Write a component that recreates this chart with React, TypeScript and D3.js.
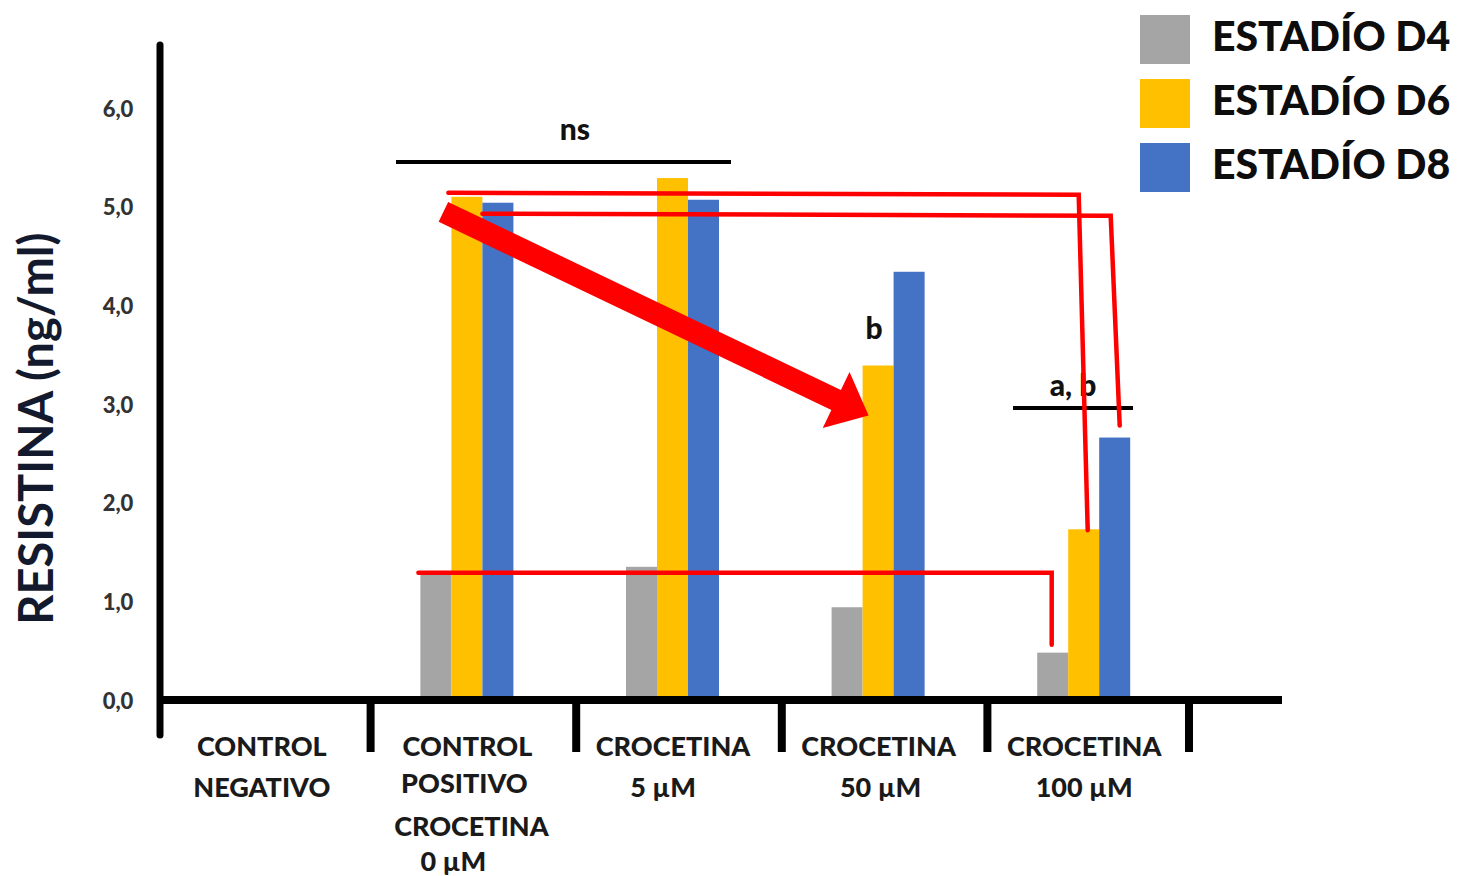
import React from 'react';
import * as d3 from 'd3';

const categories = ['NEG', 'POS', 'C5', 'C50', 'C100'];
const categoryLabels = [
    ['CONTROL', 'NEGATIVO'],
    ['CONTROL', 'POSITIVO', 'CROCETINA', '0 µM'],
    ['CROCETINA', '5 µM'],
    ['CROCETINA', '50 µM'],
    ['CROCETINA', '100 µM'],
];
const series = ['ESTADÍO D4', 'ESTADÍO D6', 'ESTADÍO D8'];
const d4 = [null, 1.27, 1.35, 0.94, 0.48];
const d6 = [null, 5.1, 5.29, 3.39, 1.73];
const d8 = [null, 5.04, 5.07, 4.34, 2.66];
const yTicks = [0, 1, 2, 3, 4, 5, 6];

const colors = ['#A5A5A5', '#FFC000', '#4472C4'];
const FONT = 'Lato, "Open Sans", sans-serif';

const W = 1468;
const H = 876;

const App: React.FC = () => {
    const values = [d4, d6, d8];
    const x = d3.scaleBand<string>().domain(categories).range([162, 1190]).padding(0);
    const inner = d3.scaleBand<string>().domain(series).range([0, 93]).padding(0);
    const y = d3.scaleLinear().domain([0, 6]).range([700, 108]);
    const bw = inner.bandwidth();
    const gx = (i: number) => x(categories[i])! + x.bandwidth() / 2 - 50;
    const barLeft = (i: number, s: number) => gx(i) + inner(series[s])!;
    const barMid = (i: number, s: number) => barLeft(i, s) + bw / 2;

    // big arrow: positive-control D6 top -> 50 µM D6
    const sx = barLeft(1, 1) - 8, sy = y(d6[1]!) + 15;
    const tx = barLeft(3, 1) + 6, ty = y(d6[3]!) + 50;
    const ang = Math.atan2(ty - sy, tx - sx);
    const ux = Math.cos(ang), uy = Math.sin(ang);
    const px = -uy, py = ux;
    const sw = 11, hl = 36, hw = 31;
    const bx = tx - ux * hl, by = ty - uy * hl;
    const arrow = [
        [sx + px * sw, sy + py * sw],
        [bx + px * sw, by + py * sw],
        [bx + px * hw, by + py * hw],
        [tx, ty],
        [bx - px * hw, by - py * hw],
        [bx - px * sw, by - py * sw],
        [sx - px * sw, sy - py * sw],
    ];

    const redLines = [
        [[barLeft(1, 1) - 3, y(d6[1]!) - 4], [barMid(4, 1) - 5, y(d6[1]!) - 2], [barMid(4, 1) + 4, y(d6[4]!) + 1]],
        [[barLeft(1, 2), y(d8[1]!) + 11], [barMid(4, 2) - 4, y(d8[1]!) + 13], [barMid(4, 2) + 5, y(d8[4]!) - 12]],
        [[barLeft(1, 0) - 2, y(d4[1]!) - 2], [barMid(4, 0) - 1, y(d4[1]!) - 2], [barMid(4, 0) - 1, y(d4[4]!) - 8]],
    ];
    const line = d3.line();
    const labelDx = [[0, 0], [0, -3, 4, -14], [0, -10], [0, 2], [0, 0]];

    return (
        <svg width={W} height={H} style={{ position: 'absolute', left: 0, top: 0, background: '#fff' }}>
            {/* bars */}
            {values.map((vals, s) =>
                vals.map((v, i) =>
                    v == null ? null : (
                        <rect key={`${s}-${i}`} x={barLeft(i, s)} y={y(v)} width={bw} height={y(0) - y(v)} fill={colors[s]} />
                    )
                )
            )}

            {/* axes */}
            <line x1={160} x2={160} y1={45} y2={735} stroke="#000" strokeWidth={7} strokeLinecap="round" />
            <line x1={157} x2={1282} y1={y(0)} y2={y(0)} stroke="#000" strokeWidth={8} />
            {categories.map((c, i) =>
                i === 0 ? null : (
                    <line key={c} x1={x(c)! + 3} x2={x(c)! + 3} y1={y(0)} y2={752} stroke="#000" strokeWidth={8} />
                )
            )}
            <line x1={1189} x2={1189} y1={y(0)} y2={752} stroke="#000" strokeWidth={8} />

            {yTicks.map(t => (
                <text key={t} x={118} y={y(t) + 3} textAnchor="middle" dominantBaseline="middle" fontFamily={FONT} fontWeight={900} fontSize={22} fill="#333">
                    {t.toFixed(1).replace('.', ',')}
                </text>
            ))}
            <text transform={`translate(53,${y(2.75)}) rotate(-90)`} textAnchor="middle" fontFamily={FONT} fontWeight={700} fontSize={47} fill="#141a2e">
                RESISTINA (ng/ml)
            </text>

            {/* category labels */}
            {categoryLabels.map((lines, i) => {
                const cx = x(categories[i])! + x.bandwidth() / 2 - 3;
                const gaps = i === 1 ? [0, 37, 80, 115] : [0, 41];
                return lines.map((l, k) => (
                    <text key={`${i}-${k}`} x={cx + labelDx[i][k]} y={756 + gaps[k]} textAnchor="middle" fontFamily={FONT} fontWeight={900} fontSize={27} fill="#1a1a1a">
                        {l}
                    </text>
                ));
            })}

            {/* significance */}
            <line x1={396} x2={731} y1={162} y2={162} stroke="#000" strokeWidth={4} />
            <text x={575} y={140} textAnchor="middle" fontFamily={FONT} fontWeight={900} fontSize={30} fill="#111">ns</text>
            <text x={barMid(3, 1) - 4} y={339} textAnchor="middle" fontFamily={FONT} fontWeight={900} fontSize={30} fill="#111">b</text>
            <line x1={1013} x2={1133} y1={408} y2={408} stroke="#000" strokeWidth={4} />
            <text x={1073} y={396} textAnchor="middle" fontFamily={FONT} fontWeight={900} fontSize={30} fill="#111">a, b</text>

            {/* red annotations */}
            {redLines.map((pts, k) => (
                <path key={k} d={line(pts as [number, number][])!} fill="none" stroke="#FF0000" strokeWidth={4.5} strokeLinecap="round" strokeLinejoin="miter" />
            ))}
            <polygon points={arrow.map(p => p.join(',')).join(' ')} fill="#FF0000" />

            {/* legend */}
            {series.map((s, k) => (
                <g key={s} transform={`translate(1140,${15 + k * 64})`}>
                    <rect x={0} y={0} width={50} height={49} fill={colors[k]} />
                    <text x={72} y={25} dominantBaseline="middle" fontFamily={FONT} fontWeight={900} fontSize={41} fill="#0d0d0d">
                        {s}
                    </text>
                </g>
            ))}
        </svg>
    );
};

export default App;
